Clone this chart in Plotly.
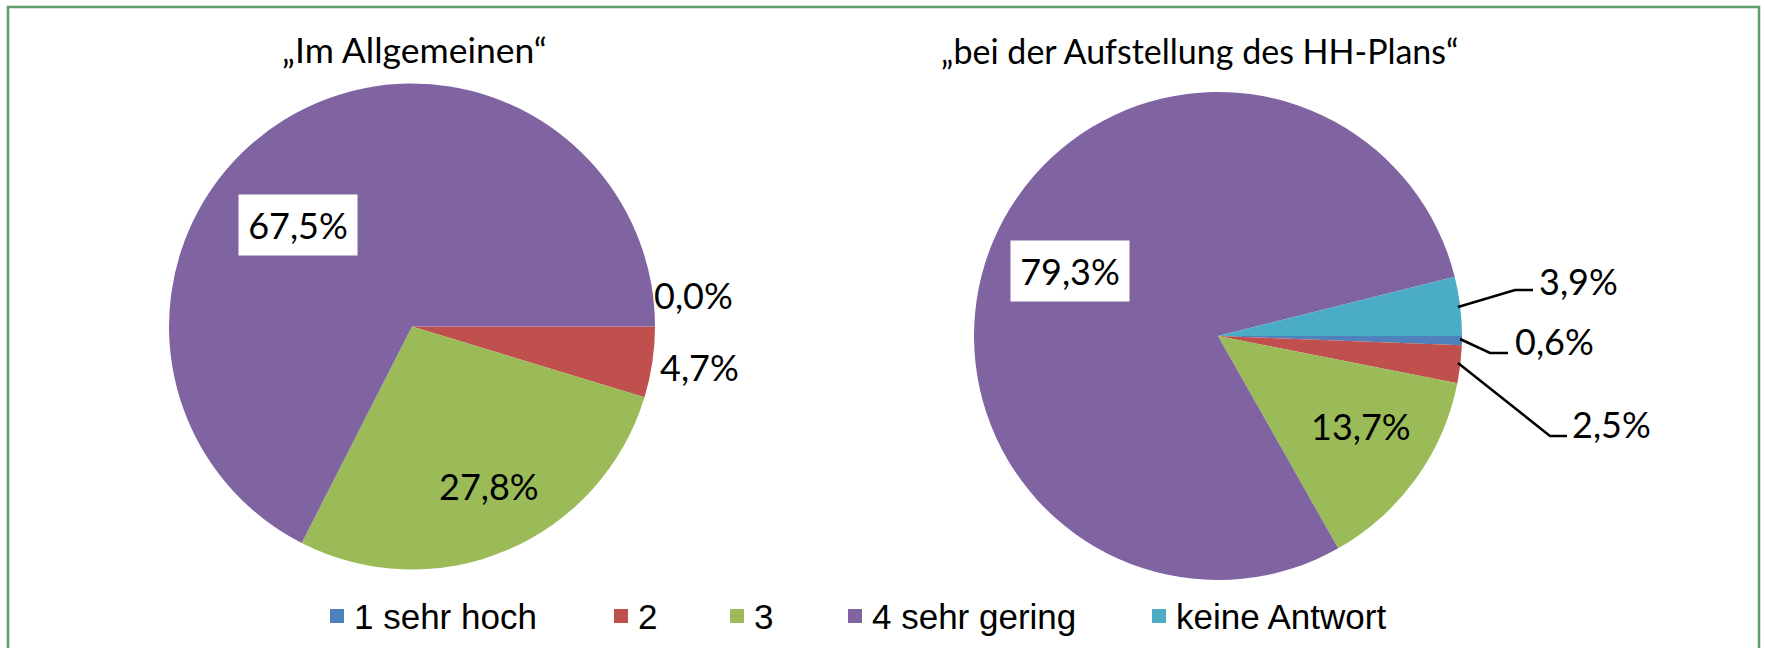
import plotly.graph_objects as go

W, H = 1765, 648

categories = ["1 sehr hoch", "2", "3", "4 sehr gering", "keine Antwort"]
colors = ["#4F81BD", "#C0504D", "#9BBB59", "#8064A2", "#4BACC6"]

title_left = "„Im Allgemeinen“"
values_left = [0.0, 4.7, 27.8, 67.5]

title_right = "„bei der Aufstellung des HH-Plans“"
values_right = [0.6, 2.5, 13.7, 79.3, 3.9]


def fmt(v):
    return f"{v:.1f}".replace(".", ",") + "%"


def px(x, y):
    return x / W, 1 - y / H


def domain(cx, cy, r):
    return dict(x=[(cx - r) / W, (cx + r) / W], y=[1 - (cy + r) / H, 1 - (cy - r) / H])


fig = go.Figure()
fig.add_trace(go.Pie(
    labels=categories[:len(values_left)], values=values_left,
    marker=dict(colors=colors[:len(values_left)], line=dict(width=0)),
    sort=False, direction="clockwise", rotation=90,
    textinfo="none", hoverinfo="label+percent", showlegend=False,
    domain=domain(412, 326.5, 243),
))
fig.add_trace(go.Pie(
    labels=categories, values=values_right,
    marker=dict(colors=colors, line=dict(width=0)),
    sort=False, direction="clockwise", rotation=90,
    textinfo="none", hoverinfo="label+percent", showlegend=False,
    domain=domain(1218, 336, 244),
))

LABEL_FONT = dict(family="Lato", size=36, color="#000000")
annotations = []
shapes = []

# titles
for text, (x, y), size in [(title_left, (414, 49), 35.5), (title_right, (1199, 50), 34)]:
    ax, ay = px(x, y)
    annotations.append(dict(text=text, x=ax, y=ay, xref="paper", yref="paper",
                            showarrow=False, xanchor="center", yanchor="middle",
                            font=dict(family="Lato", size=size, color="#000000")))

# data labels: (position in px, boxed)
left_label_pos = [((693, 295), False), ((699, 367), False), ((489, 486), False), ((298, 225), True)]
right_label_pos = [((1554, 341), False), ((1611, 424), False), ((1361, 426), False),
                   ((1070, 271), True), ((1578, 281), False)]

for vals, poss in [(values_left, left_label_pos), (values_right, right_label_pos)]:
    for v, ((x, y), boxed) in zip(vals, poss):
        ax, ay = px(x, y)
        a = dict(text=fmt(v), x=ax, y=ay, xref="paper", yref="paper", showarrow=False,
                 xanchor="center", yanchor="middle", font=LABEL_FONT)
        if boxed:
            a.update(bgcolor="#FFFFFF", width=118, height=60, borderpad=0, align="center")
        annotations.append(a)

# leader lines for the right pie
leaders = [
    [(1458, 307), (1515, 290), (1533, 290)],
    [(1460, 339), (1490, 353), (1508, 353)],
    [(1458, 363), (1550, 436), (1567, 436)],
]
for pts in leaders:
    path = ""
    for i, (x, y) in enumerate(pts):
        ax, ay = px(x, y)
        path += ("M " if i == 0 else " L ") + f"{ax} {ay}"
    shapes.append(dict(type="path", path=path, xref="paper", yref="paper",
                       line=dict(color="#000000", width=2.5)))

# legend
legend_x = [330, 614, 730, 848, 1152]
legend_y = 616
sq = 14
for name, col, x in zip(categories, colors, legend_x):
    x0, y0 = px(x, legend_y - sq / 2)
    x1, y1 = px(x + sq, legend_y + sq / 2)
    shapes.append(dict(type="rect", xref="paper", yref="paper", x0=x0, x1=x1, y0=y1, y1=y0,
                       fillcolor=col, line=dict(width=0)))
    tx, ty = px(x + sq + 8, legend_y)
    annotations.append(dict(text=name, x=tx, y=ty, xref="paper", yref="paper", showarrow=False,
                            xanchor="left", yanchor="middle",
                            font=dict(family="Liberation Sans", size=35, color="#000000")))

# outer frame
fx0, fy0 = px(8, 7)
fx1, fy1 = px(1759, 700)
shapes.append(dict(type="rect", xref="paper", yref="paper", x0=fx0, x1=fx1, y0=fy1, y1=fy0,
                   line=dict(color="#5E9E6E", width=2.5), fillcolor="rgba(0,0,0,0)", layer="below"))

fig.update_layout(
    width=W, height=H, margin=dict(l=0, r=0, t=0, b=0),
    paper_bgcolor="#FFFFFF", plot_bgcolor="#FFFFFF",
    annotations=annotations, shapes=shapes, showlegend=False,
)

fig.write_html("out.html", config={"displayModeBar": False},
               post_script="document.body.style.margin='0';")
